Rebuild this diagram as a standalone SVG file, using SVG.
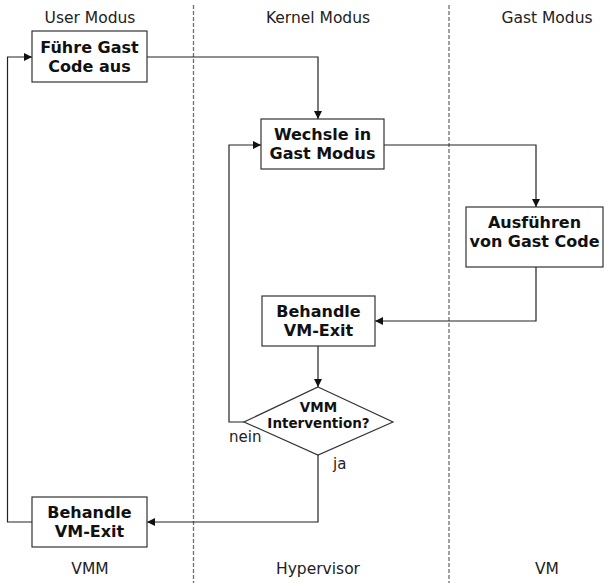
<svg xmlns="http://www.w3.org/2000/svg" width="604" height="583" viewBox="0 0 604 583">
<style>
.lane{stroke:#6e6e6e;stroke-width:1.3;stroke-dasharray:4 2;fill:none}
.box{fill:#fff;stroke:#333;stroke-width:1.2}
.edge{fill:none;stroke:#222;stroke-width:1.2}
.lbl{font-family:"DejaVu Sans",sans-serif;font-size:16px;font-weight:bold;fill:#111;text-anchor:middle}
.dlbl{font-family:"DejaVu Sans",sans-serif;font-size:13.5px;font-weight:bold;fill:#111;text-anchor:middle}
.hdr{font-family:"DejaVu Sans",sans-serif;font-size:15.5px;fill:#222;text-anchor:middle}
.small{font-family:"DejaVu Sans",sans-serif;font-size:15px;fill:#222}
</style>
<defs>
<marker id="arr" viewBox="0 0 10 10" refX="10" refY="5" markerWidth="8" markerHeight="8" markerUnits="userSpaceOnUse" orient="auto">
<path d="M0,0 L10,5 L0,10 z" fill="#111"/>
</marker>
</defs>
<rect width="604" height="583" fill="#fff"/>
<g id="lanes">
<line class="lane" x1="193.5" y1="5" x2="193.5" y2="583"/>
<line class="lane" x1="449" y1="5" x2="449" y2="583"/>
<text class="hdr" x="90" y="23">User Modus</text>
<text class="hdr" x="318" y="23">Kernel Modus</text>
<text class="hdr" x="547" y="23">Gast Modus</text>
<text class="hdr" x="90" y="574">VMM</text>
<text class="hdr" x="318" y="574">Hypervisor</text>
<text class="hdr" x="547" y="574">VM</text>
</g>
<g id="connectors">
<polyline class="edge" points="147,57 318,57 318,119" marker-end="url(#arr)"/>
<polyline class="edge" points="384,145 536,145 536,207" marker-end="url(#arr)"/>
<polyline class="edge" points="536,267 536,321 375,321" marker-end="url(#arr)"/>
<polyline class="edge" points="318,346 318,387" marker-end="url(#arr)"/>
<polyline class="edge" points="244,422 229,422 229,145 261,145" marker-end="url(#arr)"/>
<polyline class="edge" points="318,455 318,522 147,522" marker-end="url(#arr)"/>
<polyline class="edge" points="32,522 7.5,522 7.5,57 32,57" marker-end="url(#arr)"/>
<text class="small" x="229" y="442">nein</text>
<text class="small" x="333" y="469">ja</text>
</g>
<g id="n1">
<rect class="box" x="32" y="31" width="115" height="51"/>
<text class="lbl" x="89.5" y="53">Führe Gast</text>
<text class="lbl" x="89.5" y="72">Code aus</text>
</g>
<g id="n2">
<rect class="box" x="261" y="119" width="123" height="50"/>
<text class="lbl" x="322.5" y="140">Wechsle in</text>
<text class="lbl" x="322.5" y="159">Gast Modus</text>
</g>
<g id="n3">
<rect class="box" x="466" y="207" width="137" height="60"/>
<text class="lbl" x="534.5" y="228">Ausführen</text>
<text class="lbl" x="534.5" y="247">von Gast Code</text>
</g>
<g id="n4">
<rect class="box" x="262" y="296" width="113" height="50"/>
<text class="lbl" x="318.5" y="317">Behandle</text>
<text class="lbl" x="318.5" y="336">VM-Exit</text>
</g>
<g id="d1">
<polygon class="box" points="318,387 393,422 318,455 244,422"/>
<text class="dlbl" x="318.5" y="412">VMM</text>
<text class="dlbl" x="318.5" y="428">Intervention?</text>
</g>
<g id="n5">
<rect class="box" x="32" y="497" width="115" height="50"/>
<text class="lbl" x="89.5" y="518">Behandle</text>
<text class="lbl" x="89.5" y="537">VM-Exit</text>
</g>
</svg>
